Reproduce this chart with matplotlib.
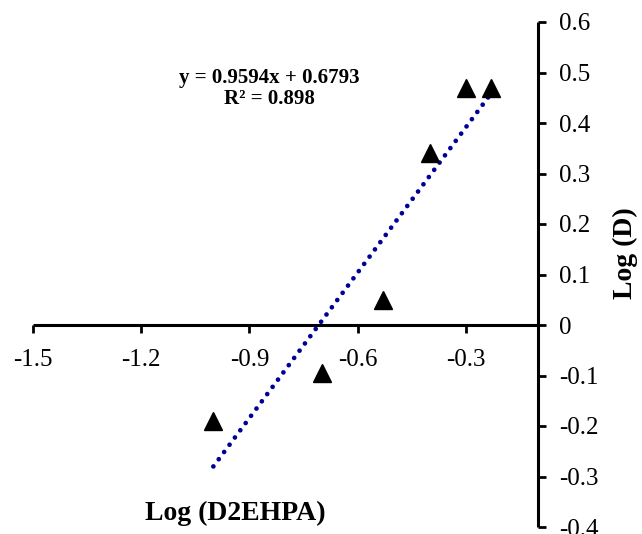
import numpy as np
import matplotlib
matplotlib.use("Agg")
from matplotlib import pyplot as plt

# data
log_d2ehpa = [-1.0, -0.7, -0.53, -0.4, -0.3, -0.23]
log_d = [-0.19, -0.095, 0.05, 0.34, 0.47, 0.47]

# trendline as printed on the chart
slope = 0.9594
intercept = 0.6793
r2 = 0.898

xticks = [-1.5, -1.2, -0.9, -0.6, -0.3]
xtick_labels = ["-1.5", "-1.2", "-0.9", "-0.6", "-0.3"]
yticks = [0.6, 0.5, 0.4, 0.3, 0.2, 0.1, 0.0, -0.1, -0.2, -0.3, -0.4]
ytick_labels = ["0.6", "0.5", "0.4", "0.3", "0.2", "0.1", "0",
                "-0.1", "-0.2", "-0.3", "-0.4"]

plt.rcParams['font.family'] = ['Liberation Serif', 'DejaVu Serif']

fig = plt.figure(figsize=(6.42, 5.34), dpi=100)
ax = fig.add_axes([33 / 642, 7 / 534, 505 / 642, 505 / 534])

ax.plot(log_d2ehpa, log_d, linestyle='none', marker='^', markersize=13,
        color='black', zorder=3)

# dotted trendline across the data range
xs = np.array([min(log_d2ehpa), max(log_d2ehpa)])
ax.plot(xs, slope * xs + intercept, color='#000099', linewidth=3.4,
        linestyle=(0, (0.01, 1.9)), dash_capstyle='round', zorder=2)

ax.set_xlim(-1.5, -0.1)
ax.set_ylim(-0.4, 0.6)

ax.spines['top'].set_visible(False)
ax.spines['left'].set_visible(False)
ax.spines['bottom'].set_position(('data', 0))
for s in ('bottom', 'right'):
    ax.spines[s].set_linewidth(2.2)
    ax.spines[s].set_capstyle('butt')

ax.set_xticks(xticks)
ax.set_xticklabels(xtick_labels)
ax.set_yticks(yticks)
ax.set_yticklabels(ytick_labels)
ax.yaxis.tick_right()
ax.tick_params(axis='both', direction='out', length=6, width=2,
               labelsize=18)
ax.tick_params(axis='x', pad=11)
ax.tick_params(axis='y', pad=9)

eq = "y = %.4fx + %.4f\nR\u00b2 = %.3f" % (slope, intercept, r2)
ax.text(-0.844, 0.469, eq, ha='center', va='center', fontsize=15,
        fontweight='bold', linespacing=1.05)

fig.text(235 / 642, 1 - 513 / 534, "Log (D2EHPA)", ha='center', va='center',
         fontsize=20, fontweight='bold')
fig.text(625 / 642, 1 - 253 / 534, "Log (D)", ha='center', va='center',
         rotation=90, fontsize=20, fontweight='bold')

fig.savefig("out.png", dpi=100)
